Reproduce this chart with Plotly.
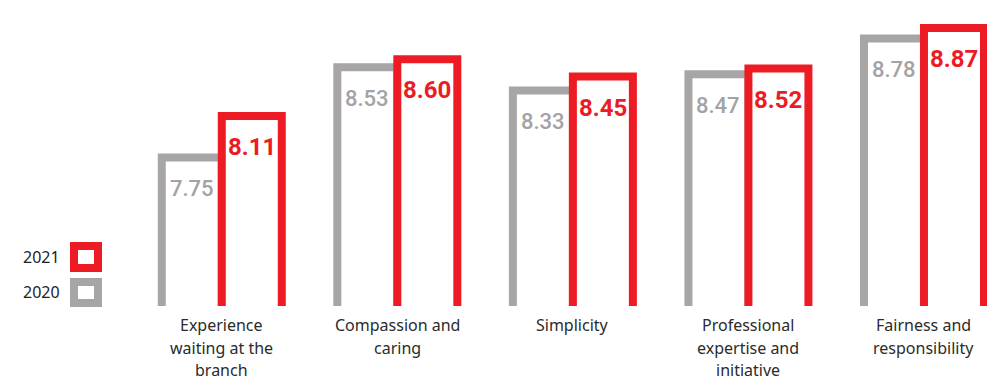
import plotly.graph_objects as go

# Survey scores per attribute
categories = [
    "Experience<br>waiting at the<br>branch",
    "Compassion and<br>caring",
    "Simplicity",
    "Professional<br>expertise and<br>initiative",
    "Fairness and<br>responsibility",
]
years = ["2020", "2021"]
scores_2020 = [7.75, 8.53, 8.33, 8.47, 8.78]
scores_2021 = [8.11, 8.60, 8.45, 8.52, 8.87]

GRAY = "#A7A5A6"
RED = "#ED1C24"
GRAY_TEXT = "#A3A2A5"
VALUE_FONT = "Roboto, Liberation Sans, sans-serif"
LABEL_FONT = "Noto Sans, DejaVu Sans Condensed, sans-serif"

W, H = 987, 380
M_L, M_R, M_T, M_B = 134, 0, 8, 74
PLOT_W = W - M_L - M_R
PLOT_H = H - M_T - M_B
X_RANGE = [-0.5, 4.359]
Y_RANGE = [6.467, 9.043]
STROKE = 8

x_idx = list(range(len(categories)))

fig = go.Figure()
for name, vals, col in [(years[0], scores_2020, GRAY), (years[1], scores_2021, RED)]:
    fig.add_trace(go.Bar(
        x=x_idx, y=vals, name=name,
        marker=dict(color="white", line=dict(color=col, width=STROKE)),
        showlegend=False, hoverinfo="x+y",
    ))

annotations = []
# Value labels just inside each bar top
for vals, col, shift, weight, size in [(scores_2020, GRAY_TEXT, -30, 500, 22),
                                       (scores_2021, RED, 30, 700, 24)]:
    for i, v in enumerate(vals):
        annotations.append(dict(
            x=i, y=v, xref="x", yref="y", text=f"{v:.2f}",
            showarrow=False, xshift=shift, yshift=-31, yanchor="middle", xanchor="center",
            font=dict(family=VALUE_FONT, size=size, color=col, weight=weight),
        ))

# Category labels, one annotation per line for wider line spacing
LINE_Y = [-19, -42, -64]
for i, lab in enumerate(categories):
    for k, line in enumerate(lab.split("<br>")):
        annotations.append(dict(
            x=i, y=0, xref="x", yref="paper", text=line, showarrow=False,
            yshift=LINE_Y[k], yanchor="middle", xanchor="center",
            font=dict(family=LABEL_FONT, size=16, color="#2b2b2b"),
        ))

def px_x(px):
    return (px - M_L) / PLOT_W

def px_y(py):
    return (H - M_B - py) / PLOT_H

# Legend: outlined squares with year labels
shapes = []
for name, col, (top, bot), cy in [(years[1], RED, (246, 268), 257), (years[0], GRAY, (282, 303), 292)]:
    shapes.append(dict(
        type="rect", xref="paper", yref="paper",
        x0=px_x(74), x1=px_x(98), y0=px_y(bot), y1=px_y(top),
        line=dict(color=col, width=STROKE), fillcolor="white",
    ))
    annotations.append(dict(
        x=px_x(62), y=px_y(cy), xref="paper", yref="paper", text=name,
        showarrow=False, xanchor="right", yanchor="middle",
        font=dict(family=LABEL_FONT, size=16, color="#222222"),
    ))

fig.update_layout(
    width=W, height=H,
    margin=dict(l=M_L, r=M_R, t=M_T, b=M_B, pad=0),
    barmode="group", bargap=0.3164, bargroupgap=0,
    plot_bgcolor="white", paper_bgcolor="white",
    xaxis=dict(range=X_RANGE, showticklabels=False, showgrid=False, zeroline=False,
               showline=False, ticks=""),
    yaxis=dict(range=Y_RANGE, showticklabels=False, showgrid=False, zeroline=False,
               showline=False, ticks=""),
    annotations=annotations, shapes=shapes,
)

fig.write_html("out.html", config={"displayModeBar": False})
